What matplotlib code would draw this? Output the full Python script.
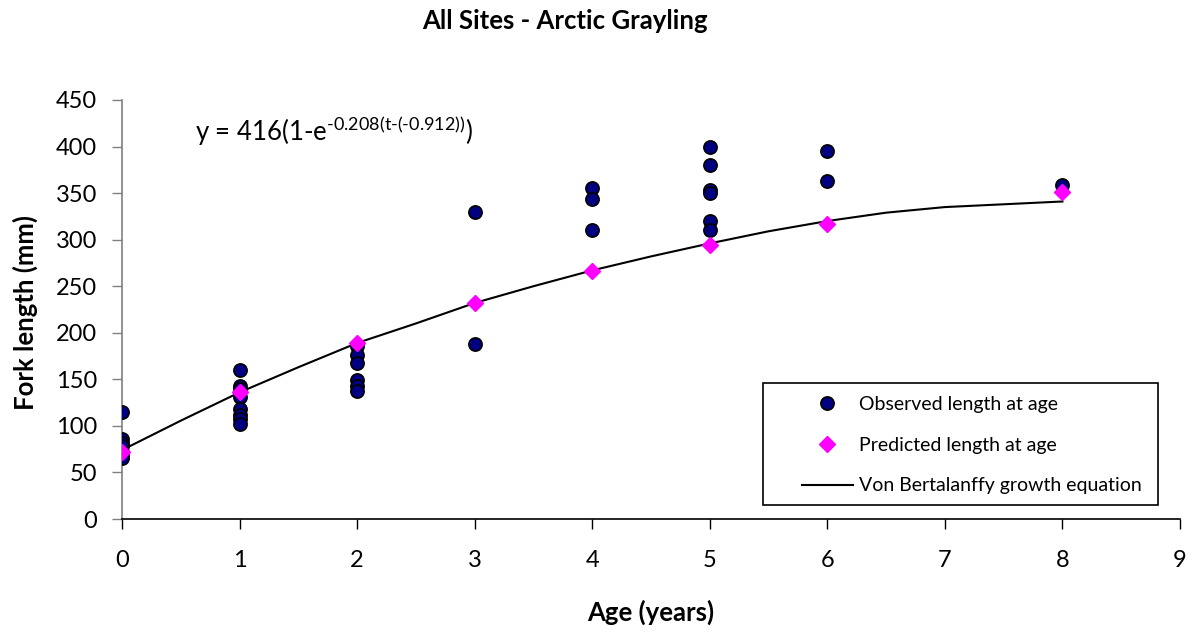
import matplotlib
matplotlib.use("Agg")
import matplotlib.pyplot as plt
from matplotlib.patches import Rectangle

plt.rcParams['font.family'] = ['Lato', 'DejaVu Sans']
plt.rcParams['mathtext.fontset'] = 'custom'
plt.rcParams['mathtext.rm'] = 'Lato'

# observed length at age
obs_age = [0, 0, 0, 0, 0, 0, 0,
           1, 1, 1, 1, 1, 1, 1, 1,
           2, 2, 2, 2, 2, 2,
           3, 3,
           4, 4, 4,
           5, 5, 5, 5, 5, 5,
           6, 6,
           8]
obs_len = [115, 86, 82, 78, 72, 68, 65,
           160, 143, 140, 131, 118, 112, 107, 102,
           186, 176, 168, 149, 143, 138,
           330, 188,
           355, 344, 310,
           400, 380, 353, 350, 320, 310,
           395, 363,
           359]

# predicted length at age
pred_age = [0, 1, 2, 3, 4, 5, 6, 8]
pred_len = [72, 136, 189, 232, 266, 294, 317, 351]

# von Bertalanffy curve as drawn
curve_t = [0, 0.5, 1, 1.5, 2, 2.5, 3, 3.5, 4, 4.5, 5, 5.5, 6, 6.5, 7, 7.5, 8]
curve_len = [74, 105.6, 136, 163, 189, 210, 232, 250, 267, 282, 296, 309, 320, 329, 335, 338, 341]

fig = plt.figure(figsize=(11.99, 6.32), dpi=100)
ax = fig.add_axes([122/1199, 1 - 519/632, 1058/1199, 419/632])

ax.plot(curve_t, curve_len, color='black', lw=1.5, label='Von Bertalanffy growth equation', zorder=2)
ax.plot(obs_age, obs_len, 'o', color='#000080', mec='black', mew=1.2, ms=9.5,
        label='Observed length at age', zorder=3)
ax.plot(pred_age, pred_len, 'D', color='#FF00FF', mec='#FF00FF', ms=8,
        label='Predicted length at age', zorder=4)

ax.set_xlim(0, 9)
ax.set_ylim(0, 450)
ax.set_xticks(range(0, 10))
ax.set_yticks(range(0, 451, 50))
ax.spines['top'].set_visible(False)
ax.spines['right'].set_visible(False)
ax.spines['left'].set_color('#808080')
ax.spines['left'].set_linewidth(1.2)
ax.spines['bottom'].set_linewidth(1.2)
ax.tick_params(axis='x', direction='out', length=7, width=1, colors='black', labelsize=17, pad=15)
ax.tick_params(axis='y', direction='out', length=7, width=1, color='#808080', labelcolor='black', labelsize=17, pad=11)

fig.text(565/1199, 1 - 21/632, 'All Sites - Arctic Grayling', ha='center', va='center',
         fontsize=18.5, fontweight='bold')
fig.text(651/1199, 1 - 612/632, 'Age (years)', ha='center', va='center',
         fontsize=18.5, fontweight='bold')
fig.text(25/1199, 1 - 312/632, 'Fork length (mm)', ha='center', va='center',
         rotation=90, fontsize=18.5, fontweight='bold')

ax.text(0.62, 417, r'y = 416(1-e$^{\text{-0.208(t-(-0.912))}}$)', fontsize=18.5, ha='left', va='center')

# legend box drawn separately so the entries can sit to the right inside it
ax.add_patch(Rectangle(((763 - 122)/1058, (519 - 505)/419), 395/1058, 122/419,
                       transform=ax.transAxes, fill=False, edgecolor='black', lw=1.2,
                       clip_on=False, zorder=5))
leg = ax.legend(handles=[ax.lines[1], ax.lines[2], ax.lines[0]],
                loc='upper left', bbox_to_anchor=((802 - 122)/1058, (519 - 396)/419),
                borderaxespad=0, borderpad=0, fontsize=14, frameon=False,
                labelspacing=1.22, handlelength=2.6, handletextpad=0.35)

fig.savefig('out.png', dpi=100)
